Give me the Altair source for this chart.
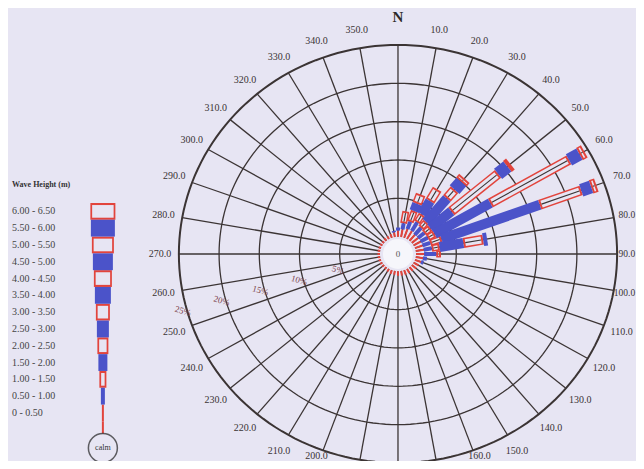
import altair as alt
import pandas as pd

# ---------------- data ----------------
directions = list(range(0, 360, 10))

height_bins = ["0 - 0.50", "0.50 - 1.00", "1.00 - 1.50", "1.50 - 2.00", "2.00 - 2.50",
               "2.50 - 3.00", "3.00 - 3.50", "3.50 - 4.00", "4.00 - 4.50", "4.50 - 5.00",
               "5.00 - 5.50", "5.50 - 6.00", "6.00 - 6.50"]

# percentage of occurrence per direction (0,10,...,350) for each wave-height class
p_000_050 = [0.8, 1.0, 1.2, 1.2, 1.0, 1.0, 1.0, 1.0, 1.0, 1.0, 0.9, 0.8,
             0.7, 0.7, 0.6, 0.6, 0.6, 0.6, 0.6, 0.5, 0.5, 0.4, 0.3, 0.3,
             0.3, 0.3, 0.3, 0.3, 0.3, 0.3, 0.3, 0.3, 0.4, 0.4, 0.5, 0.6]
p_050_100 = [0.4, 0.8, 1.0, 1.3, 1.2, 1.0, 1.0, 1.0, 1.0, 1.5, 0.5, 0.3,
             0, 0, 0, 0, 0, 0, 0, 0, 0, 0, 0, 0,
             0, 0, 0, 0, 0, 0, 0, 0, 0, 0, 0, 0.2]
p_100_150 = [0, 1.6, 1.5, 1.2, 1.0, 1.0, 1.0, 1.5, 1.0, 0.6, 0, 0] + [0] * 24
p_150_200 = [0, 0, 1.0, 2.0, 4.0, 3.4, 8.0, 13.0, 3.0, 0, 0, 0] + [0] * 24
p_200_250 = [0, 0, 1.3, 1.8, 1.5, 7.6, 11.3, 5.5, 2.5, 0, 0, 0] + [0] * 24
p_250_300 = [0, 0, 0, 0, 1.3, 1.5, 1.5, 1.3, 0.5, 0, 0, 0] + [0] * 24
p_300_350 = [0, 0, 0, 0, 0.6, 0.5, 0.7, 0.7, 0, 0, 0, 0] + [0] * 24
class_values = [p_000_050, p_050_100, p_100_150, p_150_200, p_200_250, p_250_300, p_300_350]

ring_pcts = [5, 10, 15, 20, 25]
ring_labels = ["5%", "10%", "15%", "20%", "25%"]

# ---------------- styling / layout ----------------
BG = "#e7e5f3"
BLUE = "#4b53c9"
RED = "#e2443c"
GRID = "#3b3434"
CALM_R = 2.25            # radius of calm circle in % units
class_widths = [2, 4, 7, 10, 10, 13, 14, 16, 18, 20, 22, 24, 25]
legend_widths = [2, 4, 7, 9, 11, 12, 14, 16, 18, 20, 22, 24, 25]

W, H = 628, 453
X_MAX = 29.6
xs = alt.Scale(domain=[-48.5, X_MAX], nice=False, zero=False)
ys = alt.Scale(domain=[-26.99, 32.07], nice=False, zero=False)
Y_MIN = -26.99

# ---------------- build tables ----------------
seg_rows = []
for i, d in enumerate(directions):
    start = CALM_R
    for b, vals in enumerate(class_values):
        v = vals[i]
        if v > 0:
            seg_rows.append(dict(dir=d, cls=b, r1=start, r2=start + v,
                                 w=class_widths[b], filled=(b % 2 == 1)))
            start += v
seg_df = pd.DataFrame(seg_rows)

ring_rows = []
for p in ring_pcts:
    for a in range(0, 362, 2):
        ring_rows.append(dict(ring=p, r=CALM_R + p, a=a, sw=2.0 if p == 25 else 1.3))
ring_df = pd.DataFrame(ring_rows)

spoke_df = pd.DataFrame(dict(dir=directions, r1=CALM_R, r2=CALM_R + 25))

hidden = (170, 180, 190)
edge_dirs = [160, 200]
right_dirs = [80, 90, 100]
label_dirs = [d for d in directions[1:] if d not in hidden + tuple(edge_dirs) + tuple(right_dirs)]
lab_df = pd.DataFrame(dict(dir=label_dirs, label=[f"{d}.0" for d in label_dirs], r=29.6))
edge_df = pd.DataFrame(dict(dir=edge_dirs, label=[f"{d}.0" for d in edge_dirs], r=29.6, ymin=Y_MIN))
right_df = pd.DataFrame(dict(dir=right_dirs, label=[f"{d}.0" for d in right_dirs], r=29.6, xmax=X_MAX - 0.1))

rlab_df = pd.DataFrame(dict(label=ring_labels, r=[CALM_R + p + 0.5 for p in ring_pcts], dir=254.5))

polar = {
    "x1": "datum.r1*sin(datum.dir*PI/180)", "y1": "datum.r1*cos(datum.dir*PI/180)",
    "x2": "datum.r2*sin(datum.dir*PI/180)", "y2": "datum.r2*cos(datum.dir*PI/180)",
}


def rule_enc(width_field):
    return dict(
        x=alt.X("x1:Q", scale=xs, axis=None), y=alt.Y("y1:Q", scale=ys, axis=None),
        x2="x2:Q", y2="y2:Q",
        strokeWidth=alt.StrokeWidth(width_field, scale=None, legend=None),
    )


rings = alt.Chart(ring_df).transform_calculate(
    x="datum.r*sin(datum.a*PI/180)", y="datum.r*cos(datum.a*PI/180)"
).mark_line(color=GRID).encode(
    x=alt.X("x:Q", scale=xs, axis=None), y=alt.Y("y:Q", scale=ys, axis=None),
    detail="ring:N", order="a:Q",
    strokeWidth=alt.StrokeWidth("sw:Q", scale=None, legend=None),
)

spokes = alt.Chart(spoke_df).transform_calculate(**polar).mark_rule(
    color=GRID, strokeWidth=1.3).encode(
    x=alt.X("x1:Q", scale=xs, axis=None), y=alt.Y("y1:Q", scale=ys, axis=None),
    x2="x2:Q", y2="y2:Q")

base = alt.Chart(seg_df).transform_calculate(**polar)
blue_segs = base.transform_filter("datum.filled").mark_rule(
    color=BLUE, strokeCap="butt").encode(**rule_enc("w:Q"))
red_segs = base.transform_filter("!datum.filled").mark_rule(
    color=RED, strokeCap="butt").encode(**rule_enc("w:Q"))

inner = alt.Chart(seg_df).transform_filter("!datum.filled && datum.w >= 5").transform_calculate(
    ri1="datum.r1 + 0.25", ri2="datum.r2 - 0.25", wi="datum.w - 3"
).transform_calculate(
    x1="datum.ri1*sin(datum.dir*PI/180)", y1="datum.ri1*cos(datum.dir*PI/180)",
    x2="datum.ri2*sin(datum.dir*PI/180)", y2="datum.ri2*cos(datum.dir*PI/180)",
)
hollow = inner.mark_rule(color=BG, strokeCap="butt").encode(**rule_enc("wi:Q"))
hollow_line = inner.mark_rule(color=GRID, strokeWidth=1.1).encode(
    x=alt.X("x1:Q", scale=xs, axis=None), y=alt.Y("y1:Q", scale=ys, axis=None),
    x2="x2:Q", y2="y2:Q")

calm_disc = alt.Chart(pd.DataFrame(dict(x=[0], y=[0], t=["0"]))).mark_point(
    shape="circle", filled=True, size=900, color="#f6f6fb", opacity=1).encode(
    x=alt.X("x:Q", scale=xs, axis=None), y=alt.Y("y:Q", scale=ys, axis=None))
calm_zero = alt.Chart(pd.DataFrame(dict(x=[0], y=[0], t=["0"]))).mark_text(
    font="Liberation Serif", fontSize=9, color="#555").encode(
    x=alt.X("x:Q", scale=xs, axis=None), y=alt.Y("y:Q", scale=ys, axis=None), text="t:N")

dir_labels = alt.Chart(lab_df).transform_calculate(
    x="datum.r*sin(datum.dir*PI/180)", y="datum.r*cos(datum.dir*PI/180)"
).mark_text(font="Liberation Serif", fontSize=10, color="#3a3434").encode(
    x=alt.X("x:Q", scale=xs, axis=None), y=alt.Y("y:Q", scale=ys, axis=None), text="label:N")

edge_labels = alt.Chart(edge_df).transform_calculate(
    x="datum.r*sin(datum.dir*PI/180)", y="datum.ymin"
).mark_text(font="Liberation Serif", fontSize=10, color="#3a3434", baseline="bottom").encode(
    x=alt.X("x:Q", scale=xs, axis=None), y=alt.Y("y:Q", scale=ys, axis=None), text="label:N")

right_labels = alt.Chart(right_df).transform_calculate(
    x="datum.xmax", y="datum.r*cos(datum.dir*PI/180)"
).mark_text(font="Liberation Serif", fontSize=9.5, color="#3a3434", align="right").encode(
    x=alt.X("x:Q", scale=xs, axis=None), y=alt.Y("y:Q", scale=ys, axis=None), text="label:N")

north = alt.Chart(pd.DataFrame(dict(x=[0], y=[30.9], t=["N"]))).mark_text(
    font="Liberation Serif", fontSize=15, fontWeight="bold", color="#2e2a2a").encode(
    x=alt.X("x:Q", scale=xs, axis=None), y=alt.Y("y:Q", scale=ys, axis=None), text="t:N")

ring_text = alt.Chart(rlab_df).transform_calculate(
    x="datum.r*sin(datum.dir*PI/180)", y="datum.r*cos(datum.dir*PI/180)"
).mark_text(font="Liberation Serif", fontSize=9, color="#7d4550", angle=16).encode(
    x=alt.X("x:Q", scale=xs, axis=None), y=alt.Y("y:Q", scale=ys, axis=None), text="label:N")

# ---------------- legend ----------------
LEG_X = -36.7
LEG_TOP = 6.65
LEG_STEP = 2.19
LABEL_X = -48.0
leg_rows = []
for b, lab in enumerate(height_bins):
    top = LEG_TOP - (12 - b) * LEG_STEP
    leg_rows.append(dict(label=lab, cls=b, yt=top, yb=top - LEG_STEP, ym=top - LEG_STEP / 2,
                         w=legend_widths[b], filled=(b % 2 == 1), x=LEG_X, xl=LABEL_X))
leg_df = pd.DataFrame(leg_rows)

leg_base = alt.Chart(leg_df)
leg_blue = leg_base.transform_filter("datum.filled").mark_rule(color=BLUE, strokeCap="butt").encode(
    x=alt.X("x:Q", scale=xs, axis=None), y=alt.Y("yt:Q", scale=ys, axis=None), y2="yb:Q",
    strokeWidth=alt.StrokeWidth("w:Q", scale=None, legend=None))
leg_red = leg_base.transform_filter("!datum.filled").mark_rule(color=RED, strokeCap="butt").encode(
    x=alt.X("x:Q", scale=xs, axis=None), y=alt.Y("yt:Q", scale=ys, axis=None), y2="yb:Q",
    strokeWidth=alt.StrokeWidth("w:Q", scale=None, legend=None))
leg_hollow = leg_base.transform_filter("!datum.filled && datum.w >= 5").transform_calculate(
    yt2="datum.yt - 0.27", yb2="datum.yb + 0.27", wi="datum.w - 3.5"
).mark_rule(color=BG, strokeCap="butt").encode(
    x=alt.X("x:Q", scale=xs, axis=None), y=alt.Y("yt2:Q", scale=ys, axis=None), y2="yb2:Q",
    strokeWidth=alt.StrokeWidth("wi:Q", scale=None, legend=None))
leg_text = leg_base.mark_text(font="Liberation Serif", fontSize=10, color="#444", align="left").encode(
    x=alt.X("xl:Q", scale=xs, axis=None), y=alt.Y("ym:Q", scale=ys, axis=None), text="label:N")

leg_bottom = LEG_TOP - 13 * LEG_STEP
calm_df = pd.DataFrame(dict(x=[LEG_X], y1=[leg_bottom], y2=[-23.4], yc=[-25.3], t=["calm"]))
leg_stem = alt.Chart(calm_df).mark_rule(color=RED, strokeWidth=2).encode(
    x=alt.X("x:Q", scale=xs, axis=None), y=alt.Y("y1:Q", scale=ys, axis=None), y2="y2:Q")
leg_calm = alt.Chart(calm_df).mark_point(shape="circle", size=840, filled=False,
                                          color="#222", strokeWidth=1.5).encode(
    x=alt.X("x:Q", scale=xs, axis=None), y=alt.Y("yc:Q", scale=ys, axis=None))
leg_calm_t = alt.Chart(calm_df).mark_text(font="Liberation Serif", fontSize=8, color="#333").encode(
    x=alt.X("x:Q", scale=xs, axis=None), y=alt.Y("yc:Q", scale=ys, axis=None), text="t:N")
leg_title = alt.Chart(pd.DataFrame(dict(x=[LABEL_X], y=[9.0], t=["Wave Height (m)"]))).mark_text(
    font="Liberation Serif", fontSize=8, fontWeight="bold", color="#333", align="left").encode(
    x=alt.X("x:Q", scale=xs, axis=None), y=alt.Y("y:Q", scale=ys, axis=None), text="t:N")

chart = alt.layer(
    rings, spokes, red_segs, blue_segs, hollow, hollow_line, calm_disc, calm_zero,
    dir_labels, edge_labels, right_labels, north, ring_text,
    leg_red, leg_blue, leg_hollow, leg_text, leg_stem, leg_calm, leg_calm_t, leg_title,
).properties(
    width=W, height=H, padding=0, autosize=alt.AutoSizeParams(type="none"),
).configure(background=BG).configure_view(stroke=None)

chart.save("out.html", embed_options={"renderer": "svg", "actions": False})
